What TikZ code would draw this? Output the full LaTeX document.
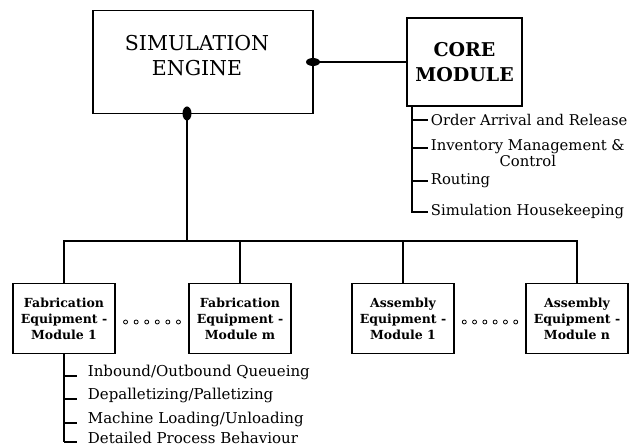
\documentclass[tikz,border=0pt]{standalone}
\usepackage{fontspec}
\setmainfont{DejaVu Serif}
\usetikzlibrary{calc}

\begin{document}
\begin{tikzpicture}[x=1pt,y=-1pt,line width=1.8pt,
	box/.style={draw,rectangle,inner sep=0,outer sep=0},
	unit/.style={box,minimum width=102pt,minimum height=70pt,align=center,font=\bfseries\fontsize{12.5}{16}\selectfont},
	item/.style={anchor=west,inner sep=0,font=\fontsize{14.8}{16}\selectfont},
	task/.style={anchor=west,inner sep=0,font=\fontsize{15}{16}\selectfont},
	joint/.style={fill=black,draw=none},
	gap/.style={line width=0.8pt}]
	\useasboundingbox (0,0) rectangle (639,446);
	\node[box,minimum width=220pt,minimum height=103pt] (engine) at (203,62) {};
	\node[align=center,font=\fontsize{20.5}{25}\selectfont] (enginetext) at (197,56) {SIMULATION\\ENGINE};
	\node[box,minimum width=115pt,minimum height=88pt,align=center,font=\bfseries\fontsize{19}{25}\selectfont] (core) at (464.5,62) {CORE\\MODULE};
	\draw (engine.east) -- (core.west);
	\fill[joint] (engine.east) ellipse (7pt and 4pt);
	\coordinate (tap) at (187,113.5);
	\fill[joint] (tap) ellipse (4.5pt and 7pt);

	\coordinate (rail) at ([xshift=5pt]core.south west);
	\node[item] (order) at (430,120) {Order Arrival and Release};
	\node[item,align=center] (inventory) at (430,153) {Inventory Management \&\\Control};
	\node[item] (routing) at (430,181) {Routing};
	\node[item] (housekeeping) at (430,212) {Simulation Housekeeping};
	\draw (rail) |- ([xshift=-2pt]housekeeping.west);
	\foreach \n in {order,routing}
		\draw (rail |- \n.west) -- ([xshift=-2pt]\n.west);
	\draw ($(rail |- inventory.west)+(0,-5)$) -- ++(16,0);

	\node[unit] (fab1) at (64,318.5) {Fabrication\\Equipment -\\Module 1};
	\node[unit] (fabm) at (240,318.5) {Fabrication\\Equipment -\\Module m};
	\node[unit] (asm1) at (403,318.5) {Assembly\\Equipment -\\Module 1};
	\node[unit] (asmn) at (577,318.5) {Assembly\\Equipment -\\Module n};
	\coordinate (bus) at (0,241);
	\draw (tap) -- (tap |- bus);
	\draw (fab1.north) |- (asmn.north |- bus) -- (asmn.north);
	\draw (fabm.north) -- (fabm.north |- bus);
	\draw (asm1.north) -- (asm1.north |- bus);
	\foreach \i in {1,...,6} {
		\draw[gap] ($(fab1.east)!\i/7!(fabm.west)+(0,3.5)$) circle (2pt);
		\draw[gap] ($(asm1.east)!\i/7!(asmn.west)+(0,3.5)$) circle (2pt);
	}

	\node[task] (inbound) at (87,372) {Inbound/Outbound Queueing};
	\node[task] (depal) at (87,395) {Depalletizing/Palletizing};
	\node[task] (loading) at (87,419) {Machine Loading/Unloading};
	\node[task] (process) at (87,438) {Detailed Process Behaviour};
	\draw (fab1.south) -- ($(fab1.south |- process.west)+(0,4)$);
	\foreach \n in {inbound,depal,loading,process}
		\draw ($(fab1.south |- \n.west)+(0,4)$) -- ++(13,0);
\end{tikzpicture}
\end{document}
